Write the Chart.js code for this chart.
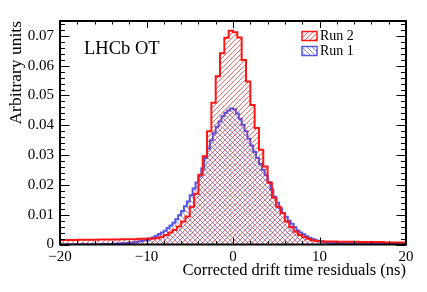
<!DOCTYPE html>
<html>
<head>
<meta charset="utf-8">
<script src="https://cdn.jsdelivr.net/npm/chart.js@4.4.0/dist/chart.umd.min.js"></script>
<style>
  html, body { margin: 0; padding: 0; background: #fff; }
</style>
</head>
<body>
<canvas id="chart" width="427" height="292"></canvas>
<script>
// axis ranges and labelled ticks
const xMin = -20;
const xMax = 20;
const yMax = 0.075;
const xTickValues = [-20, -10, 0, 10, 20];
const yTickValues = [0, 0.01, 0.02, 0.03, 0.04, 0.05, 0.06, 0.07];

// Run 2: 80 bins of 0.5 ns from -20 to 20
const run2BinWidth = 0.5;
const run2Values = [
  0.0015, 0.0015, 0.0015, 0.0015, 0.0016, 0.0016, 0.0016, 0.0016, 0.0016, 0.0017,
  0.0017, 0.0017, 0.0017, 0.0017, 0.0018, 0.0018, 0.0018, 0.0018, 0.0019, 0.0019,
  0.0019, 0.0020, 0.0021, 0.0026, 0.0032, 0.0040, 0.0049, 0.0060, 0.0077, 0.0094,
  0.0127, 0.0170, 0.0234, 0.0296, 0.0380, 0.0476, 0.0565, 0.0642, 0.0694, 0.0717,
  0.0712, 0.0695, 0.0619, 0.0547, 0.0468, 0.0391, 0.0318, 0.0262, 0.0207, 0.0157,
  0.0127, 0.0105, 0.0077, 0.0059, 0.0043, 0.0032, 0.0024, 0.0019, 0.0014, 0.0012,
  0.0011, 0.0010, 0.0010, 0.0010, 0.0009, 0.0009, 0.0009, 0.0009, 0.0009, 0.0008,
  0.0008, 0.0008, 0.0008, 0.0008, 0.0008, 0.0007, 0.0007, 0.0007, 0.0007, 0.0007
];

// Run 1: 120 bins of 1/3 ns from -20 to 20
const run1BinWidth = 1 / 3;
const run1Values = [
  0, 0, 0, 0, 0, 0.00005, 0.00005, 0.0001, 0.0001, 0.0001,
  0.0001, 0.0001, 0.0001, 0.0001, 0.00015, 0.00015, 0.0002, 0.0002, 0.00025, 0.0003,
  0.00035, 0.0004, 0.00045, 0.0005, 0.0006, 0.0007, 0.0008, 0.0010, 0.0012, 0.0014,
  0.0016, 0.0020, 0.0024, 0.0029, 0.0035, 0.0040, 0.0046, 0.0055, 0.0064, 0.0073,
  0.0085, 0.0098, 0.0112, 0.0128, 0.0144, 0.0165, 0.0188, 0.0208, 0.0228, 0.0255,
  0.0290, 0.0322, 0.0350, 0.0373, 0.0395, 0.0413, 0.0430, 0.0442, 0.0450, 0.0456,
  0.0454, 0.0440, 0.0422, 0.0402, 0.0380, 0.0355, 0.0332, 0.0310, 0.0290, 0.0270,
  0.0251, 0.0232, 0.0210, 0.0185, 0.0160, 0.0140, 0.0122, 0.0106, 0.0093, 0.0080,
  0.0070, 0.0058, 0.0047, 0.0040, 0.0034, 0.0028, 0.0023, 0.0019, 0.0016, 0.0013,
  0.0010, 0.0008, 0.0007, 0.0006, 0.0005, 0.0005, 0.0004, 0.0004, 0.0004, 0.0003,
  0.0003, 0.0003, 0.0003, 0.0002, 0.0002, 0.0002, 0.0002, 0.0002, 0.0002, 0.0002,
  0.0002, 0.0002, 0.00015, 0.00015, 0.00015, 0.00015, 0.0001, 0.0001, 0.0001, 0.0001
];

const serif = '"Liberation Serif", "Times New Roman", serif';

// histogram bins -> step points (value holds from left edge to next edge)
function toSteps(values, start, width) {
  const pts = values.map((v, i) => ({ x: start + i * width, y: v }));
  pts.push({ x: start + values.length * width, y: values[values.length - 1] });
  return pts;
}

function hatch(dir, color) {
  const s = 5;
  const c = document.createElement("canvas");
  c.width = s;
  c.height = s;
  const g = c.getContext("2d");
  g.strokeStyle = color;
  g.lineWidth = 1;
  g.beginPath();
  if (dir === "/") {
    g.moveTo(0, s); g.lineTo(s, 0);
    g.moveTo(-1, 1); g.lineTo(1, -1);
    g.moveTo(s - 1, s + 1); g.lineTo(s + 1, s - 1);
  } else {
    g.moveTo(0, 0); g.lineTo(s, s);
    g.moveTo(-1, s - 1); g.lineTo(1, s + 1);
    g.moveTo(s - 1, -1); g.lineTo(s + 1, 1);
  }
  g.stroke();
  return g.createPattern(c, "repeat");
}

const redLine = "rgb(255,20,20)";
const blueLine = "rgb(85,85,230)";
const redHatch = hatch("/", "rgba(255,0,0,0.6)");
const blueHatch = hatch("\\", "rgba(60,60,230,0.6)");

const rootFrame = {
  id: "rootFrame",
  afterDraw(chart) {
    const { ctx, chartArea: a, scales: { x, y } } = chart;
    ctx.save();
    ctx.strokeStyle = "#000";
    ctx.lineWidth = 1;
    ctx.beginPath();
    for (let v = xMin; v <= xMax; v += 2) {
      const px = Math.round(x.getPixelForValue(v)) + 0.5;
      const len = v % 10 === 0 ? 7 : 3.5;
      ctx.moveTo(px, a.bottom); ctx.lineTo(px, a.bottom - len);
      ctx.moveTo(px, a.top); ctx.lineTo(px, a.top + len);
    }
    for (let i = 0; i * 0.002 <= yMax + 1e-9; i++) {
      const py = Math.round(y.getPixelForValue(i * 0.002)) + 0.5;
      const len = i % 5 === 0 ? 9.5 : 5;
      ctx.moveTo(a.left, py); ctx.lineTo(a.left + len, py);
      ctx.moveTo(a.right, py); ctx.lineTo(a.right - len, py);
    }
    ctx.stroke();
    ctx.lineWidth = 2;
    ctx.strokeRect(a.left, a.top, a.right - a.left, a.bottom - a.top);

    // experiment label
    ctx.fillStyle = "#000";
    ctx.font = "18.5px " + serif;
    ctx.textAlign = "left";
    ctx.textBaseline = "alphabetic";
    ctx.fillText("LHCb OT", 84, 54);

    // legend
    ctx.font = "14px " + serif;
    ctx.textBaseline = "middle";
    chart.data.datasets.forEach((ds, i) => {
      const bx = 302, by = 31.5 + i * 15, bw = 15, bh = 9;
      ctx.fillStyle = "#fff";
      ctx.fillRect(bx, by, bw, bh);
      ctx.fillStyle = ds.backgroundColor;
      ctx.fillRect(bx, by, bw, bh);
      ctx.strokeStyle = ds.borderColor;
      ctx.lineWidth = 1.5;
      ctx.strokeRect(bx, by, bw, bh);
      ctx.fillStyle = "#000";
      ctx.fillText(ds.label, 320, by + bh / 2);
    });
    ctx.restore();
  }
};

new Chart(document.getElementById("chart"), {
  type: "line",
  data: {
    datasets: [
      {
        label: "Run 2",
        data: toSteps(run2Values, xMin, run2BinWidth),
        stepped: "before",
        borderColor: redLine,
        borderWidth: 2,
        backgroundColor: redHatch,
        fill: "origin",
        pointRadius: 0,
      },
      {
        label: "Run 1",
        data: toSteps(run1Values, xMin, run1BinWidth),
        stepped: "before",
        borderColor: blueLine,
        borderWidth: 2,
        backgroundColor: blueHatch,
        fill: "origin",
        pointRadius: 0,
      },
    ],
  },
  options: {
    responsive: false,
    animation: false,
    devicePixelRatio: 1,
    layout: { padding: { left: 0, right: 21, top: 21, bottom: 0 } },
    plugins: { legend: { display: false }, tooltip: { enabled: false } },
    scales: {
      x: {
        type: "linear",
        min: xMin,
        max: xMax,
        grid: { display: false, drawTicks: false },
        border: { display: false },
        afterBuildTicks: (s) => { s.ticks = xTickValues.map((v) => ({ value: v })); },
        afterFit: (s) => { s.height = 47.5; },
        ticks: {
          padding: 4,
          maxRotation: 0,
          autoSkip: false,
          color: "#000",
          font: { family: serif, size: 15 },
          callback: (v) => (v < 0 ? "\u2212" + Math.abs(v) : String(v)),
        },
        title: {
          display: true,
          text: "Corrected drift time residuals (ns)",
          align: "end",
          color: "#000",
          font: { family: serif, size: 16.5 },
          padding: { top: 0, bottom: 11 },
        },
      },
      y: {
        min: 0,
        max: yMax,
        grid: { display: false, drawTicks: false },
        border: { display: false },
        afterBuildTicks: (s) => { s.ticks = yTickValues.map((v) => ({ value: v })); },
        afterFit: (s) => { s.width = 60; },
        ticks: {
          padding: 6,
          color: "#000",
          font: { family: serif, size: 15 },
          callback: (v) => (v === 0 ? "0" : v.toFixed(2)),
        },
        title: {
          display: true,
          text: "Arbitrary units",
          align: "end",
          color: "#000",
          font: { family: serif, size: 17.5 },
          padding: { top: 6, bottom: 0 },
        },
      },
    },
  },
  plugins: [rootFrame],
});
</script>
</body>
</html>
